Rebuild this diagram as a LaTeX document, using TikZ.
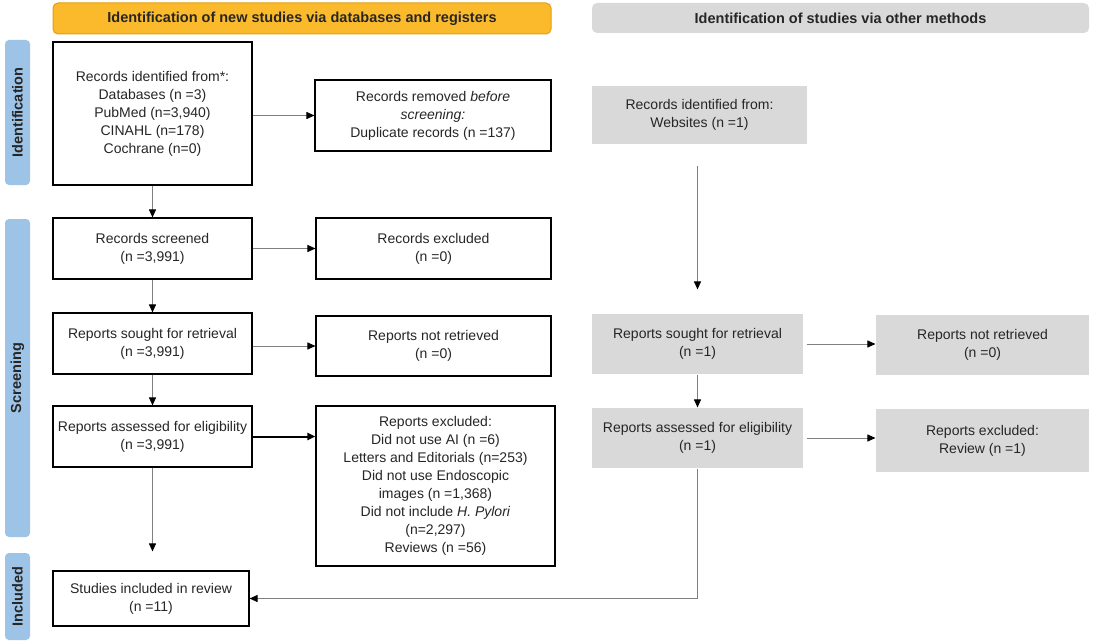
\documentclass[tikz,border=0pt]{standalone}
\usepackage{fontspec}
\setmainfont{Liberation Sans}
\usetikzlibrary{positioning,arrows.meta}

\definecolor{hdrorange}{HTML}{FBBA2C}
\definecolor{hdrorangeline}{HTML}{E39F12}
\definecolor{boxgrey}{HTML}{D9D9D9}
\definecolor{sideblue}{HTML}{9DC3E6}
\definecolor{linegrey}{HTML}{808080}

\begin{document}
\begin{tikzpicture}[
    x=1pt,y=-1pt,
    box/.style    ={draw=black,line width=1.1pt,fill=white,inner sep=2pt,align=center,
                    text=black!85,font=\fontsize{14}{18}\selectfont},
    greybox/.style={box,draw=none,fill=boxgrey},
    header/.style ={rounded corners=5pt,inner sep=0pt,font=\fontsize{14.5}{17}\selectfont\bfseries,
                    text=black!85},
    side/.style   ={rounded corners=4pt,fill=sideblue,rotate=90,inner sep=0pt,minimum height=25pt,
                    font=\fontsize{14.5}{17}\selectfont\bfseries,text=black!85},
    flow/.style   ={-{Triangle[length=8pt,width=7pt,color=black]},linegrey,line width=0.9pt},
    bold/.style   ={-{Triangle[length=8pt,width=7pt]},black,line width=2pt}
]
\useasboundingbox (0,0) rectangle (1094,642);

% column headers
\node[header,fill=hdrorange,draw=hdrorangeline,line width=1pt,minimum width=498pt,minimum height=31pt]
    (hdrdb) at (302,18.5) {Identification of new studies via databases and registers};
\node[header,fill=boxgrey,minimum width=497pt,minimum height=30pt]
    (hdrother) at (840.5,18) {Identification of studies via other methods};

% phase labels
\node[side,minimum width=145pt] (phid)  at (17.5,112.5) {Identification};
\node[side,minimum width=318pt] (phscr) at (17.5,378)   {Screening};
\node[side,minimum width=87pt]  (phinc) at (17.5,596.5) {Included};

% databases column
\node[box,minimum width=199pt,minimum height=143pt] (ident) at (152.5,113.5)
    {Records identified from*:\\Databases (n =3)\\PubMed (n=3,940)\\CINAHL (n=178)\\Cochrane (n=0)};
\node[box,minimum width=236pt,minimum height=71pt]  (removed) at (433,115.5)
    {Records removed \textit{before}\\\textit{screening:}\\Duplicate records (n =137)};
\node[box,minimum width=199pt,minimum height=61pt]  (screened) at (152.5,248.5)
    {Records screened\\(n =3,991)};
\node[box,minimum width=235pt,minimum height=61pt]  (recexcl) at (433.5,248.5)
    {Records excluded\\(n =0)};
\node[box,minimum width=199pt,minimum height=61pt]  (sought) at (152.5,343.5)
    {Reports sought for retrieval\\(n =3,991)};
\node[box,minimum width=235pt,minimum height=60pt]  (notret) at (433.5,346)
    {Reports not retrieved\\(n =0)};
\node[box,minimum width=199pt,minimum height=61pt]  (assessed) at (152.5,436.5)
    {Reports assessed for eligibility\\(n =3,991)};
\node[box,minimum width=239pt,minimum height=160pt] (repexcl) at (435.5,486)
    {Reports excluded:\\Did not use AI (n =6)\\Letters and Editorials (n=253)\\Did not use Endoscopic\\
     images (n =1,368)\\Did not include \textit{H. Pylori}\\(n=2,297)\\Reviews (n =56)};
\node[box,minimum width=196pt,minimum height=55pt]  (included) at (151,598.5)
    {Studies included in review\\(n =11)};

% other methods column
\node[greybox,minimum width=215pt,minimum height=58pt] (web) at (699.5,115)
    {Records identified from:\\Websites (n =1)};
\node[greybox,minimum width=211pt,minimum height=60pt] (soughtR) at (697.5,344)
    {Reports sought for retrieval\\(n =1)};
\node[greybox,minimum width=213pt,minimum height=60pt] (notretR) at (982.5,345)
    {Reports not retrieved\\(n =0)};
\node[greybox,minimum width=211pt,minimum height=60pt] (assessedR) at (697.5,438)
    {Reports assessed for eligibility\\(n =1)};
\node[greybox,minimum width=213pt,minimum height=63pt] (repexclR) at (982.5,440.5)
    {Reports excluded:\\Review (n =1)};

% connectors
\draw[flow] (ident.east |- removed) -- (removed.west);
\draw[flow] (ident) -- (screened);
\draw[flow] (screened) -- (recexcl);
\draw[flow] (screened) -- (sought);
\draw[flow] (sought.east |- notret) -- (notret.west);
\draw[flow] (sought) -- (assessed);
\draw[bold] (assessed) -- (assessed -| repexcl.west);
\draw[flow,shorten >=19pt] (assessed) -- (assessed |- included.north);

\draw[flow,shorten <=21pt,shorten >=24pt] (soughtR |- web.south) -- (soughtR.north);
\draw[flow] ([xshift=3pt]soughtR.east) -- (soughtR -| notretR.west);
\draw[flow] (soughtR) -- (assessedR);
\draw[flow] ([xshift=3pt]assessedR.east) -- (assessedR -| repexclR.west);
\draw[flow] (assessedR.south) |- (included.east);

\end{tikzpicture}
\end{document}
